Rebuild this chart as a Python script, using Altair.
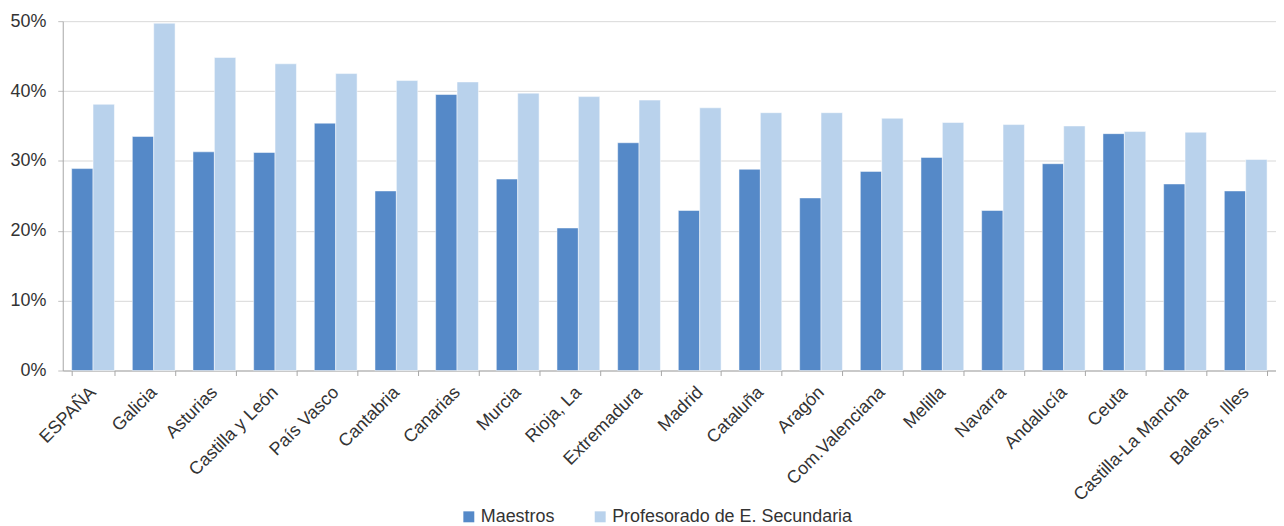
import altair as alt
import pandas as pd

regions = ["ESPAÑA", "Galicia", "Asturias", "Castilla y León", "País Vasco", "Cantabria",
           "Canarias", "Murcia", "Rioja, La", "Extremadura", "Madrid", "Cataluña", "Aragón",
           "Com.Valenciana", "Melilla", "Navarra", "Andalucía", "Ceuta", "Castilla-La Mancha",
           "Balears, Illes"]
maestros = [28.9, 33.5, 31.3, 31.2, 35.4, 25.7, 39.5, 27.4, 20.4, 32.6,
            22.9, 28.8, 24.7, 28.5, 30.5, 22.9, 29.6, 33.9, 26.7, 25.7]
secundaria = [38.1, 49.7, 44.8, 43.9, 42.5, 41.5, 41.3, 39.7, 39.2, 38.7,
              37.6, 36.9, 36.9, 36.1, 35.5, 35.2, 35.0, 34.2, 34.1, 30.2]
series = ["Maestros", "Profesorado de E. Secundaria"]
colors = ["#5589C8", "#B9D2EC"]

rows = []
for r, m, s in zip(regions, maestros, secundaria):
    rows.append({"region": r, "serie": series[0], "valor": m / 100})
    rows.append({"region": r, "serie": series[1], "valor": s / 100})
df = pd.DataFrame(rows)

FONT = "Liberation Sans"
TXT = "#333333"

chart = alt.Chart(df).mark_bar(stroke="white", strokeWidth=0.5).encode(
    x=alt.X("region:N", sort=regions, title=None,
            scale=alt.Scale(paddingInner=0.295, paddingOuter=0.147),
            axis=alt.Axis(labelAngle=-45, labelAlign="right", labelBaseline="middle",
                          labelFontSize=18, labelColor=TXT,
                          labelFont=FONT, tickBand="extent", tickSize=5,
                          tickColor="#A6A6A6", domainColor="#A6A6A6", labelPadding=14,
                          labelLimit=400)),
    xOffset=alt.XOffset("serie:N", sort=series),
    y=alt.Y("valor:Q", title=None,
            scale=alt.Scale(domain=[0, 0.5], nice=False),
            axis=alt.Axis(format=".0%", values=[0, 0.1, 0.2, 0.3, 0.4, 0.5],
                          labelFontSize=18, labelColor=TXT, labelFont=FONT,
                          ticks=True, tickSize=5, tickColor="#BFBFBF",
                          labelPadding=12, gridColor="#D9D9D9",
                          domainColor="#A6A6A6")),
    color=alt.Color("serie:N", sort=series,
                    scale=alt.Scale(domain=series, range=colors),
                    legend=alt.Legend(title=None, orient="none", direction="horizontal",
                                      legendX=399, legendY=489, symbolType="square",
                                      symbolSize=121, symbolStrokeWidth=0,
                                      labelFontSize=18, labelFont=FONT, labelLimit=400,
                                      labelColor=TXT, columnPadding=36,
                                      labelOffset=3)),
).properties(
    width=1219, height=351,
    padding={"left": 1, "top": 3, "right": 0, "bottom": 0}
).configure_view(stroke=None)

chart.save("out.html", embed_options={"renderer": "svg", "actions": False})
